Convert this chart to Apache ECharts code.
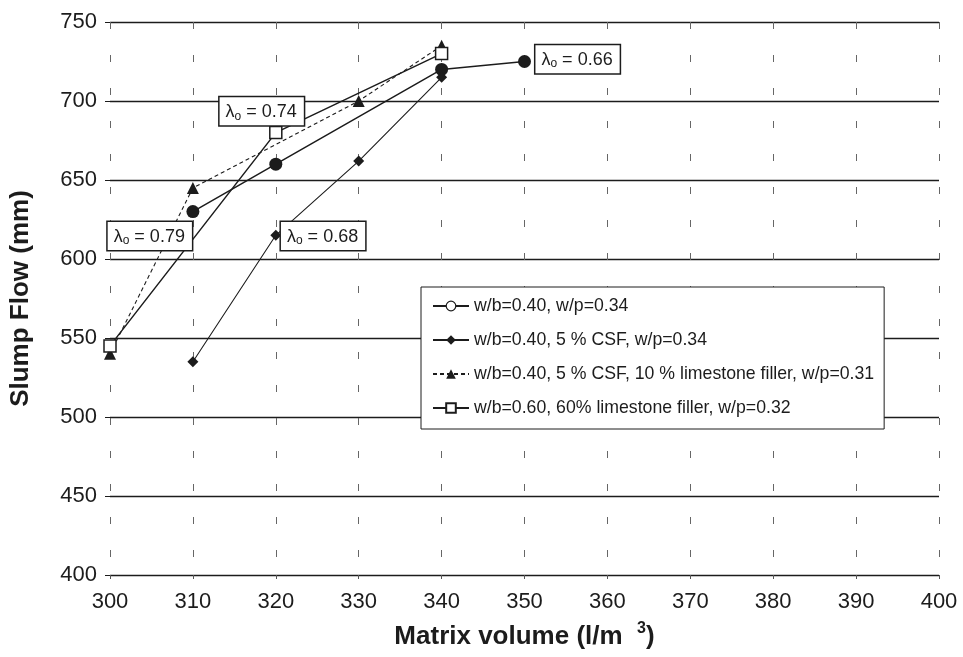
<!DOCTYPE html>
<html lang="en">
<head>
    <meta charset="UTF-8">
    <title>Slump Flow vs Matrix volume</title>
    <script src="https://cdn.jsdelivr.net/npm/echarts@6/dist/echarts.min.js"></script>
    <style>
        html, body { margin: 0; padding: 0; background: #fff; }
        #chart { width: 963px; height: 657px; }
    </style>
</head>
<body>
    <div id="chart"></div>
    <script>
        // data
        const seriesNames = [
            'w/b=0.40, w/p=0.34',
            'w/b=0.40, 5 % CSF, w/p=0.34',
            'w/b=0.40, 5 % CSF, 10 % limestone filler, w/p=0.31',
            'w/b=0.60, 60% limestone filler, w/p=0.32'
        ];
        const circleX = [310, 320, 340, 350];
        const circleY = [630, 660, 720, 725];
        const diamondX = [310, 320, 330, 340];
        const diamondY = [535, 615, 662, 715];
        const triangleX = [300, 310, 330, 340];
        const triangleY = [540, 645, 700, 735];
        const squareX = [300, 320, 340];
        const squareY = [545, 680, 730];

        // lambda_o labels and where they sit (data coords)
        const lambdaValues = ['0.79', '0.74', '0.68', '0.66'];
        const lambdaX = [304.8, 318.3, 325.7, 356.4];
        const lambdaY = [614.5, 693.5, 614.5, 726.5];

        const pairs = (xs, ys) => xs.map((x, i) => [x, ys[i]]);
        const ink = '#1c1c1c';
        const font = 'Arial, "Liberation Sans", Helvetica, sans-serif';

        const chart = echarts.init(document.getElementById('chart'));
        const option = {
            animation: false,
            backgroundColor: '#fff',
            grid: { left: 109, right: 24, top: 22, bottom: 82 },
            legend: {
                orient: 'vertical',
                left: 421,
                top: 287,
                padding: [9, 10, 11, 11],
                itemWidth: 36,
                itemHeight: 12,
                itemGap: 14,
                backgroundColor: '#fff',
                borderColor: ink,
                borderWidth: 1,
                textStyle: { fontFamily: font, fontSize: 17.7, color: ink, lineHeight: 20 },
                data: [
                    { name: seriesNames[0], itemStyle: { color: '#fff', borderColor: ink, borderWidth: 1.2 } },
                    { name: seriesNames[1] },
                    { name: seriesNames[2] },
                    { name: seriesNames[3] }
                ]
            },
            xAxis: {
                type: 'value',
                min: 300,
                max: 400,
                interval: 10,
                name: 'Matrix volume (l/m  {sup|3})',
                nameLocation: 'middle',
                nameGap: 46,
                nameTextStyle: {
                    fontFamily: font, fontSize: 26, fontWeight: 'bold', color: ink,
                    rich: { sup: { fontSize: 16, fontWeight: 'bold', color: ink, padding: [0, 0, 16, 0] } }
                },
                axisLine: { show: false },
                axisTick: { show: true, length: 4, lineStyle: { color: '#555' } },
                axisLabel: { fontFamily: font, fontSize: 22, color: ink, margin: 16 },
                splitLine: { show: true, lineStyle: { color: '#666', width: 1, type: [7, 26] } }
            },
            yAxis: {
                type: 'value',
                min: 400,
                max: 750,
                interval: 50,
                name: 'Slump Flow (mm)',
                nameLocation: 'middle',
                nameGap: 76,
                nameTextStyle: { fontFamily: font, fontSize: 26, fontWeight: 'bold', color: ink },
                axisLine: { show: false },
                axisTick: { show: true, length: 5, lineStyle: { color: ink } },
                axisLabel: { fontFamily: font, fontSize: 22, color: ink, margin: 13 },
                splitLine: { show: true, lineStyle: { color: ink, width: 1.3 } }
            },
            series: [
                {
                    name: seriesNames[0],
                    type: 'line',
                    data: pairs(circleX, circleY),
                    symbol: 'circle',
                    symbolSize: 13,
                    itemStyle: { color: ink },
                    lineStyle: { color: ink, width: 1.5 }
                },
                {
                    name: seriesNames[1],
                    type: 'line',
                    data: pairs(diamondX, diamondY),
                    symbol: 'diamond',
                    symbolSize: 11,
                    itemStyle: { color: ink },
                    lineStyle: { color: ink, width: 1.1 }
                },
                {
                    name: seriesNames[2],
                    type: 'line',
                    data: pairs(triangleX, triangleY),
                    symbol: 'triangle',
                    symbolSize: 12,
                    itemStyle: { color: ink },
                    lineStyle: { color: ink, width: 1.1, type: [4, 3] }
                },
                {
                    name: seriesNames[3],
                    type: 'line',
                    data: pairs(squareX, squareY),
                    symbol: 'rect',
                    symbolSize: 12,
                    z: 3,
                    itemStyle: { color: '#fff', borderColor: ink, borderWidth: 1.5 },
                    lineStyle: { color: ink, width: 1.5 },
                    markPoint: {
                        symbol: 'rect',
                        symbolSize: 0,
                        silent: true,
                        label: {
                            show: true,
                            position: 'inside',
                            fontFamily: font,
                            fontSize: 18,
                            color: ink,
                            backgroundColor: '#fff',
                            borderColor: ink,
                            borderWidth: 1.5,
                            padding: [4, 7, 3, 6],
                            formatter: p => '\u03bb{s|o} = ' + p.name,
                            rich: { s: { fontSize: 12, color: ink, padding: [9, 0, 0, 0] } }
                        },
                        data: lambdaValues.map((v, i) => ({ name: v, coord: [lambdaX[i], lambdaY[i]] }))
                    }
                }
            ]
        };
        chart.setOption(option);
    </script>
</body>
</html>
